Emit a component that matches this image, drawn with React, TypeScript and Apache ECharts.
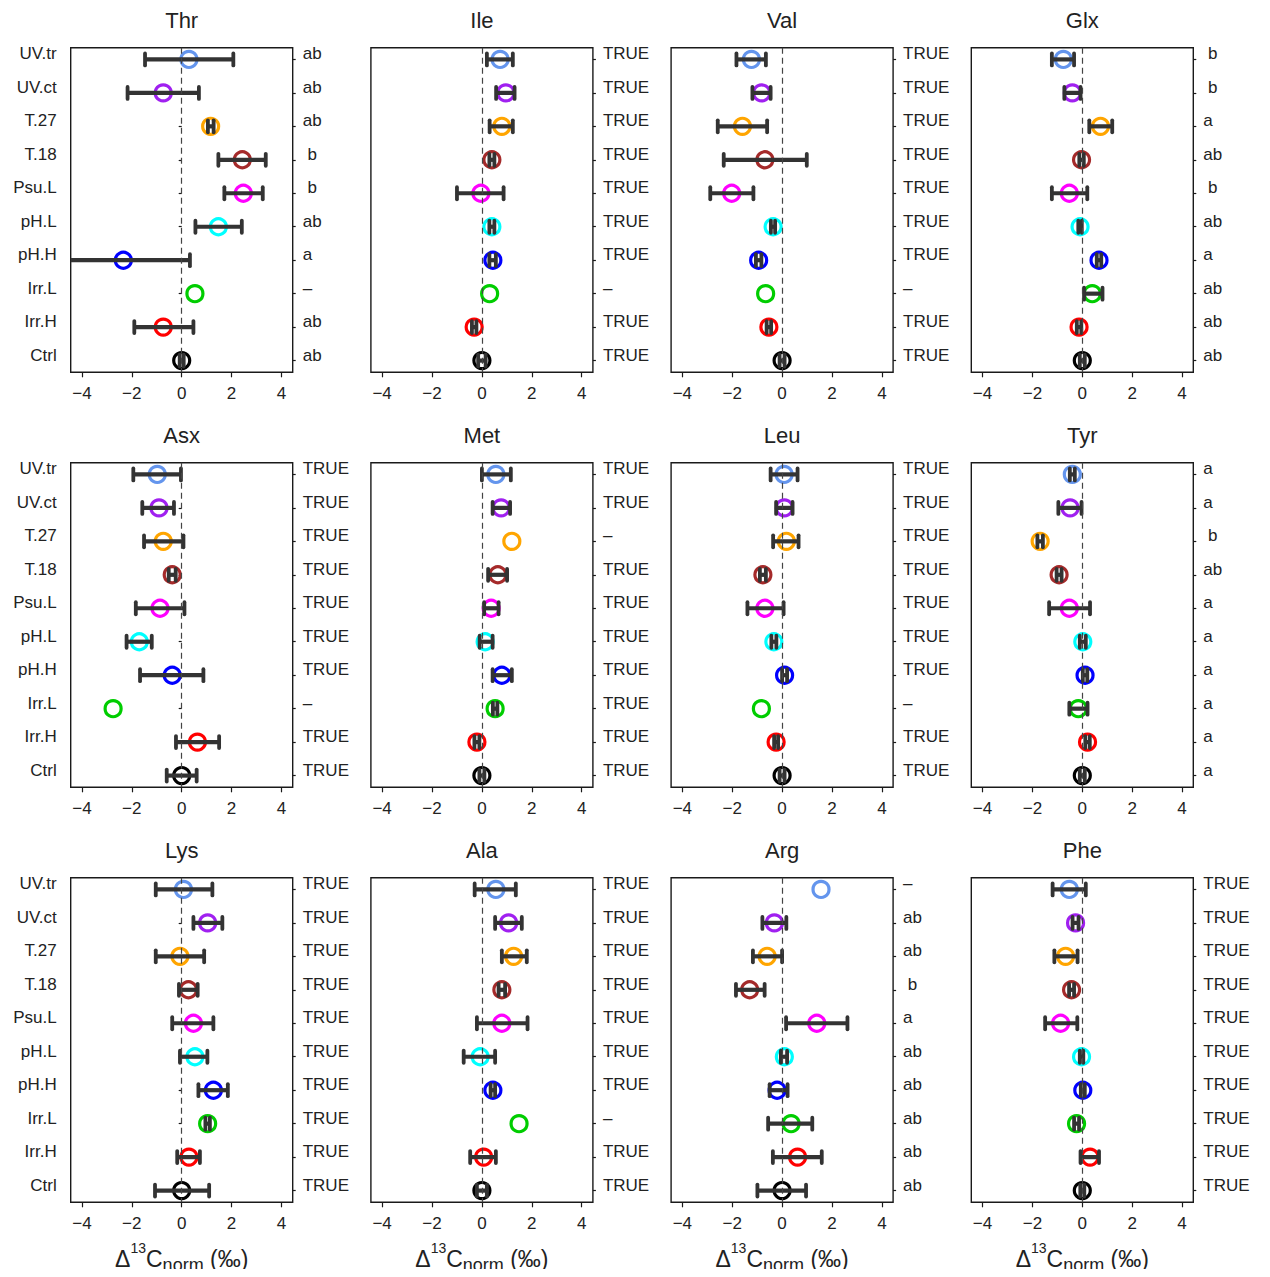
import React, { useEffect, useRef } from "react";
import * as echarts from "echarts";

const treatments = ["UV.tr", "UV.ct", "T.27", "T.18", "Psu.L", "pH.L", "pH.H", "Irr.L", "Irr.H", "Ctrl"];
const treatmentColors = ["#6495ED", "#A020F0", "#FFA500", "#A52A2A", "#FF00FF", "#00FFFF", "#0000FF", "#00CD00", "#FF0000", "#000000"];
const xTicks = [-4, -2, 0, 2, 4];
const yPositions = [1, 2, 3, 4, 5, 6, 7, 8, 9, 10];
const allTrue = ["TRUE", "TRUE", "TRUE", "TRUE", "TRUE", "TRUE", "TRUE", "TRUE", "TRUE", "TRUE"];

const thrMean = [0.29, -0.74, 1.16, 2.43, 2.47, 1.47, -2.34, 0.53, -0.74, 0];
const thrLo = [-1.47, -2.17, 1.05, 1.47, 1.71, 0.55, -4.9, null, -1.9, -0.08];
const thrHi = [2.07, 0.69, 1.28, 3.37, 3.25, 2.41, 0.33, null, 0.47, 0.08];
const thrLab = ["ab", "ab", "ab", " b", " b", "ab", "a ", "–", "ab", "ab"];

const ileMean = [0.73, 0.96, 0.8, 0.4, -0.04, 0.4, 0.44, 0.31, -0.31, 0];
const ileLo = [0.2, 0.57, 0.31, 0.3, -1.0, 0.3, 0.3, null, -0.4, -0.15];
const ileHi = [1.24, 1.31, 1.24, 0.5, 0.87, 0.5, 0.56, null, -0.22, 0.15];
const ileLab = ["TRUE", "TRUE", "TRUE", "TRUE", "TRUE", "TRUE", "TRUE", "–", "TRUE", "TRUE"];

const valMean = [-1.23, -0.82, -1.59, -0.69, -2.02, -0.36, -0.94, -0.66, -0.53, 0];
const valLo = [-1.83, -1.19, -2.58, -2.34, -2.88, -0.45, -1.05, null, -0.62, -0.1];
const valHi = [-0.65, -0.46, -0.6, 0.99, -1.15, -0.28, -0.83, null, -0.44, 0.1];
const valLab = ["TRUE", "TRUE", "TRUE", "TRUE", "TRUE", "TRUE", "TRUE", "–", "TRUE", "TRUE"];

const glxMean = [-0.76, -0.4, 0.73, -0.03, -0.52, -0.09, 0.67, 0.4, -0.13, 0];
const glxLo = [-1.22, -0.72, 0.28, -0.12, -1.22, -0.16, 0.58, 0.07, -0.22, -0.1];
const glxHi = [-0.33, -0.07, 1.2, 0.06, 0.2, -0.02, 0.76, 0.81, -0.04, 0.1];
const glxLab = [" b", " b", "a ", "ab", " b", "ab", "a ", "ab", "ab", "ab"];

const asxMean = [-0.98, -0.91, -0.74, -0.38, -0.87, -1.7, -0.38, -2.75, 0.63, 0];
const asxLo = [-1.94, -1.58, -1.51, -0.52, -1.84, -2.21, -1.67, null, -0.23, -0.6];
const asxHi = [-0.03, -0.31, 0.07, -0.24, 0.11, -1.2, 0.87, null, 1.5, 0.6];
const asxLab = ["TRUE", "TRUE", "TRUE", "TRUE", "TRUE", "TRUE", "TRUE", "–", "TRUE", "TRUE"];

const metMean = [0.56, 0.77, 1.2, 0.64, 0.37, 0.13, 0.8, 0.53, -0.2, 0];
const metLo = [0.0, 0.43, null, 0.25, 0.09, -0.09, 0.43, 0.44, -0.3, -0.1];
const metHi = [1.16, 1.13, null, 1.01, 0.67, 0.43, 1.2, 0.62, -0.1, 0.1];
const metLab = ["TRUE", "TRUE", "–", "TRUE", "TRUE", "TRUE", "TRUE", "TRUE", "TRUE", "TRUE"];

const leuMean = [0.08, 0.09, 0.17, -0.77, -0.69, -0.33, 0.1, -0.83, -0.24, 0];
const leuLo = [-0.46, -0.24, -0.36, -0.89, -1.39, -0.43, 0.0, null, -0.32, -0.1];
const leuHi = [0.62, 0.42, 0.66, -0.65, 0.06, -0.23, 0.2, null, -0.16, 0.1];
const leuLab = ["TRUE", "TRUE", "TRUE", "TRUE", "TRUE", "TRUE", "TRUE", "–", "TRUE", "TRUE"];

const tyrMean = [-0.4, -0.49, -1.69, -0.93, -0.52, 0.02, 0.11, -0.16, 0.21, 0];
const tyrLo = [-0.5, -0.96, -1.8, -1.03, -1.33, -0.1, 0.02, -0.52, 0.12, -0.1];
const tyrHi = [-0.3, -0.03, -1.58, -0.83, 0.31, 0.14, 0.2, 0.21, 0.3, 0.1];
const tyrLab = ["a ", "a ", " b", "ab", "a ", "a ", "a ", "a ", "a ", "a "];

const lysMean = [0.07, 1.04, -0.07, 0.27, 0.47, 0.53, 1.27, 1.04, 0.29, 0];
const lysLo = [-1.04, 0.47, -1.04, -0.11, -0.38, -0.07, 0.67, 0.95, -0.18, -1.07];
const lysHi = [1.23, 1.63, 0.9, 0.64, 1.27, 1.03, 1.85, 1.13, 0.73, 1.1];
const lysLab = allTrue;

const alaMean = [0.56, 1.07, 1.27, 0.8, 0.8, -0.07, 0.44, 1.49, 0.07, 0];
const alaLo = [-0.29, 0.53, 0.8, 0.67, -0.2, -0.73, 0.35, null, -0.47, -0.2];
const alaHi = [1.36, 1.6, 1.8, 0.93, 1.83, 0.53, 0.53, null, 0.56, 0.2];
const alaLab = ["TRUE", "TRUE", "TRUE", "TRUE", "TRUE", "TRUE", "TRUE", "–", "TRUE", "TRUE"];

const argMean = [1.56, -0.31, -0.6, -1.3, 1.39, 0.09, -0.2, 0.36, 0.62, 0];
const argLo = [null, -0.79, -1.17, -1.85, 0.16, -0.05, -0.5, -0.56, -0.37, -0.99];
const argHi = [null, 0.17, 0.0, -0.7, 2.62, 0.2, 0.22, 1.21, 1.59, 0.96];
const argLab = ["–", "ab", "ab", " b", "a ", "ab", "ab", "ab", "ab", "ab"];

const pheMean = [-0.52, -0.27, -0.67, -0.43, -0.87, -0.03, 0.02, -0.23, 0.31, 0];
const pheLo = [-1.19, -0.39, -1.12, -0.53, -1.49, -0.1, -0.06, -0.33, -0.07, -0.08];
const pheHi = [0.14, -0.15, -0.19, -0.33, -0.2, 0.04, 0.1, -0.13, 0.67, 0.08];
const pheLab = allTrue;

const panels = [
  { name: "Thr", mean: thrMean, lo: thrLo, hi: thrHi, lab: thrLab },
  { name: "Ile", mean: ileMean, lo: ileLo, hi: ileHi, lab: ileLab },
  { name: "Val", mean: valMean, lo: valLo, hi: valHi, lab: valLab },
  { name: "Glx", mean: glxMean, lo: glxLo, hi: glxHi, lab: glxLab },
  { name: "Asx", mean: asxMean, lo: asxLo, hi: asxHi, lab: asxLab },
  { name: "Met", mean: metMean, lo: metLo, hi: metHi, lab: metLab },
  { name: "Leu", mean: leuMean, lo: leuLo, hi: leuHi, lab: leuLab },
  { name: "Tyr", mean: tyrMean, lo: tyrLo, hi: tyrHi, lab: tyrLab },
  { name: "Lys", mean: lysMean, lo: lysLo, hi: lysHi, lab: lysLab },
  { name: "Ala", mean: alaMean, lo: alaLo, hi: alaHi, lab: alaLab },
  { name: "Arg", mean: argMean, lo: argLo, hi: argHi, lab: argLab },
  { name: "Phe", mean: pheMean, lo: pheLo, hi: pheHi, lab: pheLab },
];

const FONT = "'Liberation Sans', Arial, sans-serif";
const TXT = "#222222";
const BAR = "#333333";

const tickLabelRich = {
  t: { fontSize: 17, fontFamily: FONT, color: TXT, padding: [0, 0, 11, 0] },
};

export default function App() {
  const ref = useRef<HTMLDivElement>(null);

  useEffect(() => {
    if (!ref.current) return;
    const chart = echarts.init(ref.current, null, { renderer: "svg" });

    const grids: any[] = [];
    const xAxes: any[] = [];
    const yAxes: any[] = [];
    const series: any[] = [];
    const graphics: any[] = [];

    const gridW = 222;
    const gridH = 324.6;

    panels.forEach((p, i) => {
      const row = Math.floor(i / 4);
      const col = i % 4;
      const left = 62.7 + col * 300.2;
      const top = 39.7 + row * 415;

      grids.push({
        left,
        top,
        width: gridW,
        height: gridH,
        show: true,
        borderColor: "#1a1a1a",
        borderWidth: 1.4,
        backgroundColor: "transparent",
        containLabel: false,
        outerBoundsMode: "none",
      });

      graphics.push({
        type: "text",
        x: left + gridW / 2,
        y: 12.5 + row * 415,
        style: {
          text: p.name,
          fill: TXT,
          font: `22px ${FONT}`,
          align: "center",
          verticalAlign: "middle",
        },
      });

      xAxes.push({
        type: "value",
        gridIndex: i,
        min: -4.45,
        max: 4.45,
        axisLine: { show: false },
        splitLine: { show: false },
        axisTick: {
          show: true,
          customValues: xTicks,
          length: 5,
          lineStyle: { color: "#1a1a1a", width: 1.2 },
        },
        axisLabel: {
          customValues: xTicks,
          formatter: (v: number) => (v < 0 ? "\u2212" + Math.abs(v) : String(v)),
          fontSize: 17,
          fontFamily: FONT,
          color: TXT,
          margin: 13,
        },
        name: row === 2 ? "{d|Δ}{sup|13}{d|C}{sub|norm}{d| (‰)}" : "",
        nameLocation: "middle",
        nameGap: 39,
        nameTextStyle: {
          color: TXT,
          fontFamily: FONT,
          rich: {
            d: { fontSize: 23, fontFamily: FONT, color: TXT },
            sup: { fontSize: 14, fontFamily: FONT, color: TXT, padding: [0, 0, 22, 0] },
            sub: { fontSize: 18, fontFamily: FONT, color: TXT, padding: [12, 0, 0, 0] },
          },
        },
      });

      yAxes.push({
        type: "value",
        gridIndex: i,
        position: "left",
        min: 0.65,
        max: 10.35,
        inverse: true,
        axisLine: { show: false },
        splitLine: { show: false },
        axisTick: {
          show: col === 0,
          customValues: yPositions,
          length: 3,
          lineStyle: { color: "#1a1a1a", width: 1.2 },
        },
        axisLabel: {
          show: col === 0,
          customValues: yPositions,
          formatter: (v: number) => "{t|" + (treatments[Math.round(v) - 1] ?? "") + "}",
          margin: 14,
          rich: tickLabelRich,
        },
      });

      yAxes.push({
        type: "value",
        gridIndex: i,
        position: "right",
        min: 0.65,
        max: 10.35,
        inverse: true,
        axisLine: { show: false },
        splitLine: { show: false },
        axisTick: {
          show: true,
          customValues: yPositions,
          length: 3,
          lineStyle: { color: "#1a1a1a", width: 1.2 },
        },
        axisLabel: {
          show: true,
          customValues: yPositions,
          formatter: (v: number) =>
            "{t|" + (p.lab[Math.round(v) - 1] ?? "").replace(/ /g, "\u00a0") + "}",
          margin: 10,
          align: "left",
          rich: tickLabelRich,
        },
      });

      series.push({
        type: "scatter",
        xAxisIndex: i,
        yAxisIndex: 2 * i,
        symbol: "circle",
        symbolSize: 16,
        silent: true,
        data: p.mean.map((m, k) => ({
          value: [m, k + 1],
          itemStyle: {
            color: "rgba(0,0,0,0)",
            borderColor: treatmentColors[k],
            borderWidth: 3.2,
            opacity: 1,
          },
        })),
        markLine: {
          silent: true,
          symbol: ["none", "none"],
          label: { show: false },
          lineStyle: { color: "#444444", type: [6, 4], width: 1.2 },
          data: [{ xAxis: 0 }],
        },
        z: 2,
      });

      const errData: number[][] = [];
      p.mean.forEach((_, k) => {
        const lo = p.lo[k];
        const hi = p.hi[k];
        if (lo !== null && hi !== null) errData.push([k + 1, lo as number, hi as number]);
      });

      series.push({
        type: "custom",
        xAxisIndex: i,
        yAxisIndex: 2 * i,
        silent: true,
        encode: { x: [1, 2], y: 0 },
        data: errData,
        z: 3,
        renderItem: (params: any, api: any) => {
          const y = api.value(0);
          const a = api.coord([api.value(1), y]);
          const b = api.coord([api.value(2), y]);
          const cs = params.coordSys;
          const xmin = cs.x;
          const xmax = cs.x + cs.width;
          const x1 = Math.max(a[0], xmin);
          const x2 = Math.min(b[0], xmax);
          const style = { stroke: BAR, lineWidth: 4.2, fill: null };
          const capH = 6;
          const children: any[] = [
            { type: "line", shape: { x1, y1: a[1], x2, y2: a[1] }, style },
          ];
          if (a[0] >= xmin) {
            children.push({
              type: "line",
              shape: { x1: a[0], y1: a[1] - capH, x2: a[0], y2: a[1] + capH },
              style: { stroke: BAR, lineWidth: 3.8, lineCap: "round" },
            });
          }
          if (b[0] <= xmax) {
            children.push({
              type: "line",
              shape: { x1: b[0], y1: b[1] - capH, x2: b[0], y2: b[1] + capH },
              style: { stroke: BAR, lineWidth: 3.8, lineCap: "round" },
            });
          }
          return { type: "group", children };
        },
      });
    });

    chart.setOption({
      animation: false,
      backgroundColor: "#ffffff",
      textStyle: { fontFamily: FONT },
      grid: grids,
      xAxis: xAxes,
      yAxis: yAxes,
      series,
      graphic: graphics,
    });

    return () => chart.dispose();
  }, []);

  return <div ref={ref} style={{ width: 1254, height: 1269, marginBottom: -8 }} />;
}
